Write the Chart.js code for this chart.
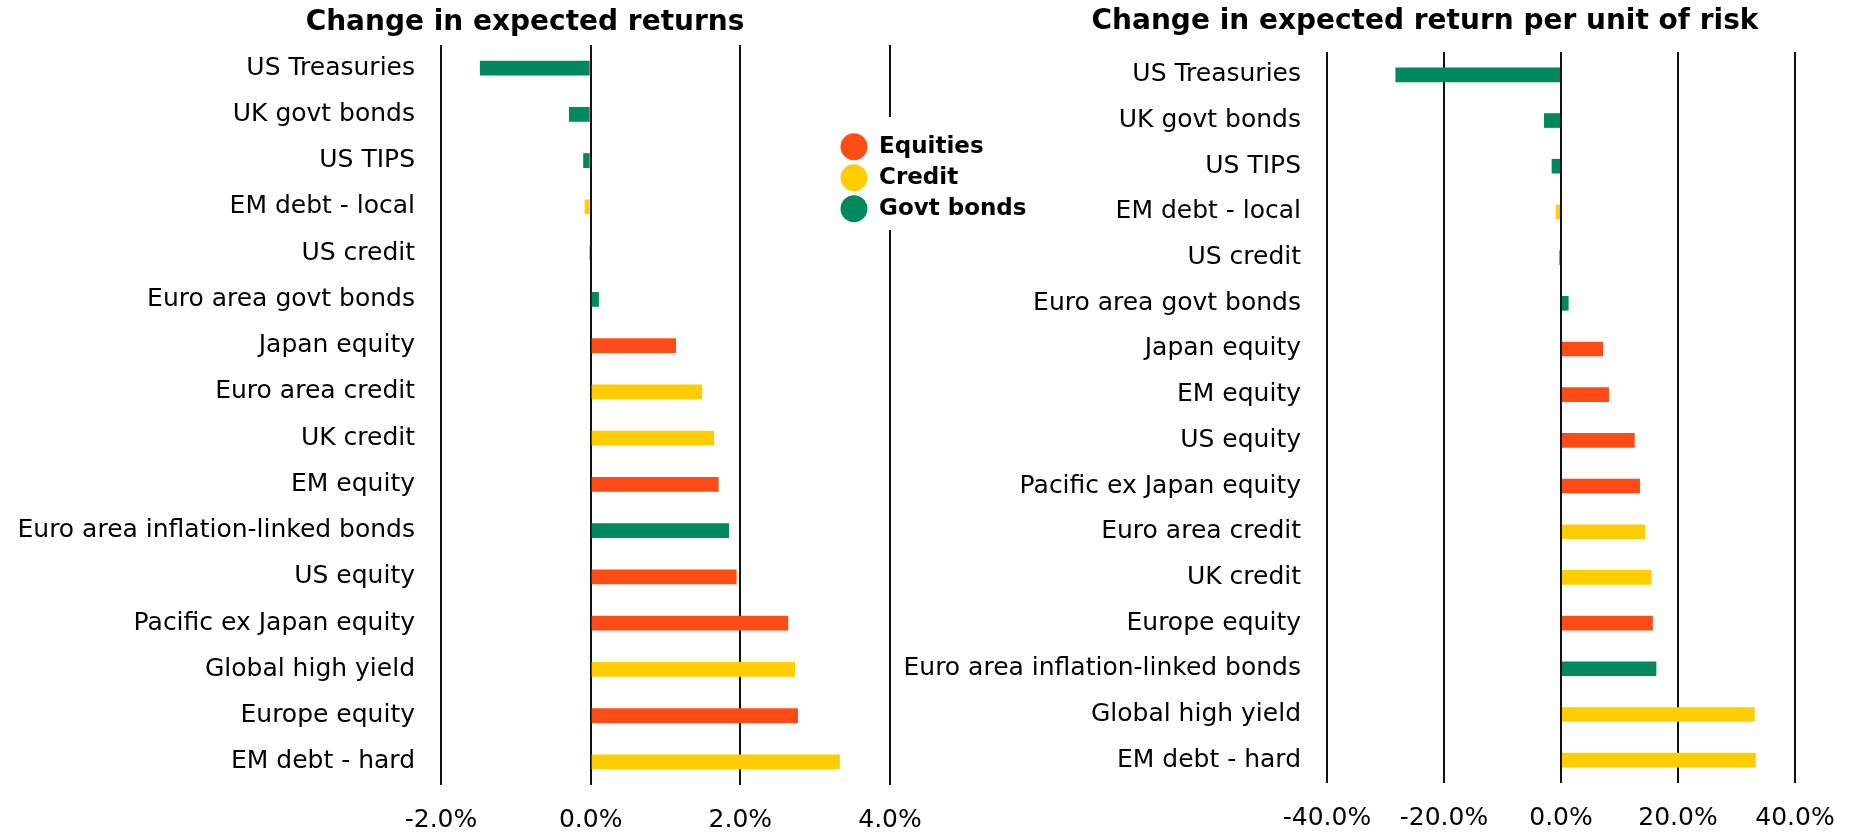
<!DOCTYPE html>
<html>
<head>
<meta charset="utf-8">
<script src="https://cdn.jsdelivr.net/npm/chart.js@4.4.1/dist/chart.umd.min.js"></script>
<style>
  html, body { margin: 0; padding: 0; width: 1851px; height: 832px; overflow: hidden; background: #fff; }
  canvas { position: absolute; }
  #left { left: 0; top: 0; }
  #right { left: 880px; top: 0; }
  #legendBox { position: absolute; left: 830px; top: 117px; width: 210px; height: 113px; overflow: hidden; background: #fff; z-index: 5; }
  #legend { left: 0; top: 0; }
</style>
</head>
<body>
<canvas id="left" width="1050" height="832"></canvas>
<canvas id="right" width="1090" height="832"></canvas>
<div id="legendBox"><canvas id="legend" width="210" height="260"></canvas></div>
<script>
// ---- Data ----
const leftTitle = 'Change in expected returns';
const leftCategories = ['US Treasuries', 'UK govt bonds', 'US TIPS', 'EM debt - local', 'US credit',
  'Euro area govt bonds', 'Japan equity', 'Euro area credit', 'UK credit', 'EM equity',
  'Euro area inflation-linked bonds', 'US equity', 'Pacific ex Japan equity', 'Global high yield',
  'Europe equity', 'EM debt - hard'];
const leftValues = [-1.48, -0.29, -0.10, -0.08, -0.02, 0.11, 1.14, 1.49, 1.65, 1.71, 1.85, 1.95, 2.64, 2.73, 2.77, 3.33];
const leftGroups = ['Govt bonds', 'Govt bonds', 'Govt bonds', 'Credit', 'Equities', 'Govt bonds', 'Equities', 'Credit',
  'Credit', 'Equities', 'Govt bonds', 'Equities', 'Equities', 'Credit', 'Equities', 'Credit'];
const leftTicks = [-2, 0, 2, 4];

const rightTitle = 'Change in expected return per unit of risk';
const rightCategories = ['US Treasuries', 'UK govt bonds', 'US TIPS', 'EM debt - local', 'US credit',
  'Euro area govt bonds', 'Japan equity', 'EM equity', 'US equity', 'Pacific ex Japan equity',
  'Euro area credit', 'UK credit', 'Europe equity', 'Euro area inflation-linked bonds',
  'Global high yield', 'EM debt - hard'];
const rightValues = [-28.3, -2.9, -1.6, -0.9, -0.3, 1.3, 7.2, 8.2, 12.6, 13.5, 14.4, 15.5, 15.7, 16.3, 33.1, 33.3];
const rightGroups = ['Govt bonds', 'Govt bonds', 'Govt bonds', 'Credit', 'Equities', 'Govt bonds', 'Equities', 'Equities',
  'Equities', 'Equities', 'Credit', 'Credit', 'Equities', 'Govt bonds', 'Credit', 'Credit'];
const rightTicks = [-40, -20, 0, 20, 40];

const legendGroups = ['Equities', 'Credit', 'Govt bonds'];

// ---- Styles ----
const groupColors = { 'Equities': '#FF4C17', 'Credit': '#FFCD00', 'Govt bonds': '#00895C' };
const FONT = '"DejaVu Sans", "Noto Sans", sans-serif';

function makeChart(id, title, categories, values, groups, ticks, cfg) {
  return new Chart(document.getElementById(id), {
    type: 'bar',
    data: {
      labels: categories,
      datasets: [{
        data: values,
        backgroundColor: groups.map(g => groupColors[g]),
        borderWidth: 0,
        barPercentage: 0.32,
        categoryPercentage: 1
      }]
    },
    options: {
      indexAxis: 'y',
      responsive: false,
      animation: false,
      events: [],
      layout: { padding: 0 },
      plugins: {
        legend: { display: false },
        tooltip: { enabled: false },
        title: {
          display: true,
          text: title,
          color: '#000',
          font: { family: FONT, size: 28, weight: 'bold' },
          padding: cfg.titlePad
        }
      },
      scales: {
        x: {
          type: 'linear',
          min: ticks[0],
          max: ticks[ticks.length - 1],
          z: 1,
          afterBuildTicks: (s) => { s.ticks = ticks.map(v => ({ value: v })); },
          afterFit: (s) => { s.height = cfg.xHeight; },
          grid: { color: '#111', lineWidth: 2, drawTicks: false },
          border: { display: false },
          ticks: {
            color: '#000',
            padding: cfg.tickPad,
            font: { family: FONT, size: 25 },
            callback: (v) => Number(v).toFixed(1) + '%'
          }
        },
        y: {
          afterFit: (s) => { s.width = cfg.yWidth; },
          grid: { display: false, drawTicks: false },
          border: { display: false },
          ticks: {
            color: '#000',
            padding: 26,
            font: { family: FONT, size: 25 },
            autoSkip: false
          }
        },
        spacer: {
          type: 'linear',
          axis: 'y',
          position: 'right',
          afterFit: (s) => { s.width = cfg.rightWidth; },
          grid: { display: false, drawTicks: false },
          border: { display: false },
          ticks: { display: false }
        }
      }
    }
  });
}

makeChart('left', leftTitle, leftCategories, leftValues, leftGroups, leftTicks,
  { yWidth: 441, rightWidth: 160, xHeight: 47, tickPad: 20, titlePad: { top: 6, bottom: 5.4 } });
makeChart('right', rightTitle, rightCategories, rightValues, rightGroups, rightTicks,
  { yWidth: 447, rightWidth: 175, xHeight: 49, tickPad: 20, titlePad: { top: 5, bottom: 13.4 } });

new Chart(document.getElementById('legend'), {
  type: 'bar',
  data: {
    labels: [],
    datasets: legendGroups.map(g => ({ label: g, data: [], backgroundColor: groupColors[g], borderWidth: 0 }))
  },
  options: {
    responsive: false,
    animation: false,
    events: [],
    layout: { padding: { left: 2.5, top: 10.2, right: 0, bottom: 0 } },
    scales: { x: { display: false }, y: { display: false } },
    plugins: {
      tooltip: { enabled: false },
      legend: {
        display: true,
        position: 'top',
        align: 'start',
        labels: {
          usePointStyle: true,
          pointStyle: 'circle',
          boxHeight: 19,
          pointStyleWidth: 27,
          padding: 8,
          color: '#000',
          font: { family: FONT, size: 23, weight: 'bold' }
        }
      }
    }
  }
});
</script>
</body>
</html>
